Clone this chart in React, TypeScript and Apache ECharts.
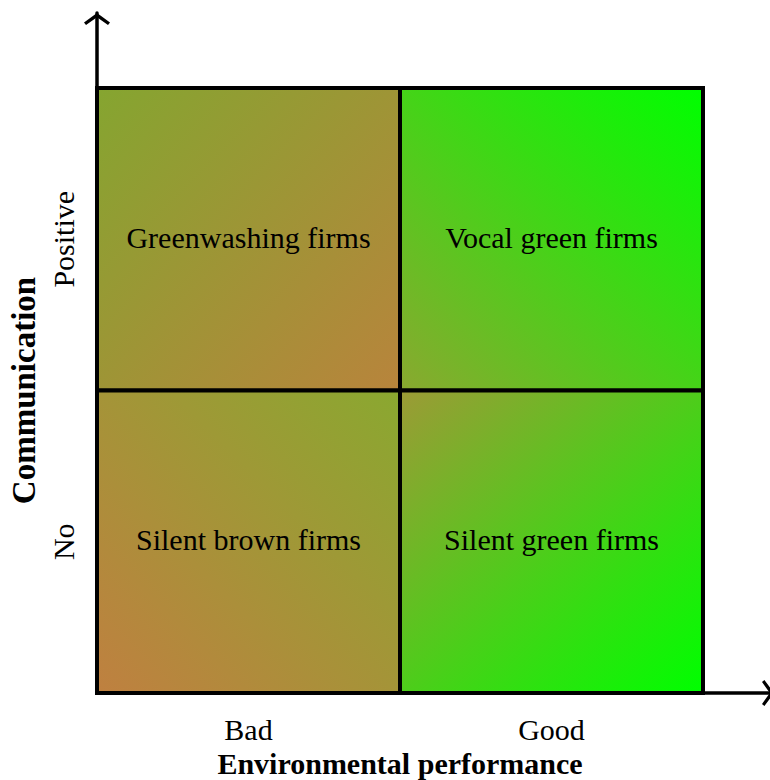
import React, { useEffect, useRef } from "react";
import * as echarts from "echarts";

// ---- data ----
const xCategories = ["Bad", "Good"];
const yCategories = ["No", "Positive"];
const xAxisName = "Environmental performance";
const yAxisName = "Communication";
const cellX = [0, 1, 0, 1];
const cellY = [1, 1, 0, 0];
const cellLabels = [
  "Greenwashing firms",
  "Vocal green firms",
  "Silent brown firms",
  "Silent green firms",
];

// ---- styles (gradient per cell: [x, y, x2, y2, fromColor, toColor]) ----
const cellGradients: [number, number, number, number, string, string][] = [
  [0, 0, 1, 1, "#85a530", "#b8843c"],
  [0, 1, 1, 0, "#8aa830", "#00ff00"],
  [0, 1, 1, 0, "#bf8040", "#8aa830"],
  [0, 0, 1, 1, "#9c9a36", "#00ff00"],
];

const FONT = "Liberation Serif";
const ARROW = "path://M13,0 L26,9.6 L24,12 L13,4.2 L2,12 L0,9.6 Z";

export default function App() {
  const ref = useRef<HTMLDivElement>(null);

  useEffect(() => {
    if (!ref.current) return;
    const chart = echarts.init(ref.current, null, { renderer: "svg" });
    const cellData = cellX.map((x, i) => [x, cellY[i]]);

    const option: any = {
      animation: false,
      backgroundColor: "#ffffff",
      textStyle: { fontFamily: FONT, color: "#000" },
      grid: [
        {
          left: 97,
          top: 88,
          width: 606,
          height: 605,
          containLabel: false,
          outerBoundsMode: "none",
        },
        {
          left: 97,
          top: 13,
          right: -4,
          bottom: 87,
          containLabel: false,
          outerBoundsMode: "none",
        },
      ],
      xAxis: [
        {
          type: "category",
          gridIndex: 0,
          data: xCategories,
          boundaryGap: true,
          axisLine: { show: false },
          axisTick: { show: false },
          splitLine: { show: false },
          axisLabel: {
            margin: 24.5,
            fontFamily: FONT,
            fontSize: 30,
            lineHeight: 24,
            color: "#000",
          },
          name: xAxisName,
          nameLocation: "middle",
          nameGap: 58.5,
          nameMoveOverlap: false,
          nameTextStyle: {
            fontFamily: FONT,
            fontSize: 30,
            lineHeight: 24,
            fontWeight: "bold",
            color: "#000",
          },
        },
        {
          type: "value",
          gridIndex: 1,
          min: 0,
          max: 1,
          axisLine: {
            show: true,
            lineStyle: { color: "#000", width: 3.5 },
            symbol: ["none", ARROW],
            symbolSize: [26, 12],
            symbolOffset: [0, -6],
          },
          axisTick: { show: false },
          axisLabel: { show: false },
          splitLine: { show: false },
        },
      ],
      yAxis: [
        {
          type: "category",
          gridIndex: 0,
          data: yCategories,
          boundaryGap: true,
          axisLine: { show: false },
          axisTick: { show: false },
          splitLine: { show: false },
          axisLabel: {
            rotate: 90,
            margin: 19,
            fontFamily: FONT,
            fontSize: 30,
            color: "#000",
          },
          name: yAxisName,
          nameLocation: "middle",
          nameGap: 57,
          nameMoveOverlap: false,
          nameTextStyle: {
            fontFamily: FONT,
            fontSize: 33,
            fontWeight: "bold",
            color: "#000",
          },
        },
        {
          type: "value",
          gridIndex: 1,
          min: 0,
          max: 1,
          axisLine: {
            show: true,
            lineStyle: { color: "#000", width: 3.5 },
            symbol: ["none", ARROW],
            symbolSize: [26, 12],
            symbolOffset: [0, -6],
          },
          axisTick: { show: false },
          axisLabel: { show: false },
          splitLine: { show: false },
        },
      ],
      series: [
        {
          type: "custom",
          xAxisIndex: 0,
          yAxisIndex: 0,
          data: cellData,
          z: 3,
          renderItem: (params: any, api: any) => {
            const i = params.dataIndex;
            const c = api.coord([api.value(0), api.value(1)]);
            const s = api.size([1, 1]);
            const g = cellGradients[i];
            return {
              type: "rect",
              shape: {
                x: c[0] - s[0] / 2,
                y: c[1] - s[1] / 2,
                width: s[0],
                height: s[1],
              },
              style: {
                fill: new echarts.graphic.LinearGradient(g[0], g[1], g[2], g[3], [
                  { offset: 0, color: g[4] },
                  { offset: 1, color: g[5] },
                ]),
                stroke: "#000",
                lineWidth: 4,
              },
              textContent: {
                style: {
                  text: cellLabels[i],
                  fill: "#000",
                  opacity: 1,
                  fontFamily: FONT,
                  fontSize: 30,
                  fontWeight: "normal",
                },
              },
              textConfig: {
                position: "inside",
                offset: [0, -2],
              },
            };
          },
        },
      ],
    };

    chart.setOption(option);
    return () => chart.dispose();
  }, []);

  return (
    <div
      ref={ref}
      style={{ position: "absolute", left: 0, top: 0, width: 770, height: 780 }}
    />
  );
}
